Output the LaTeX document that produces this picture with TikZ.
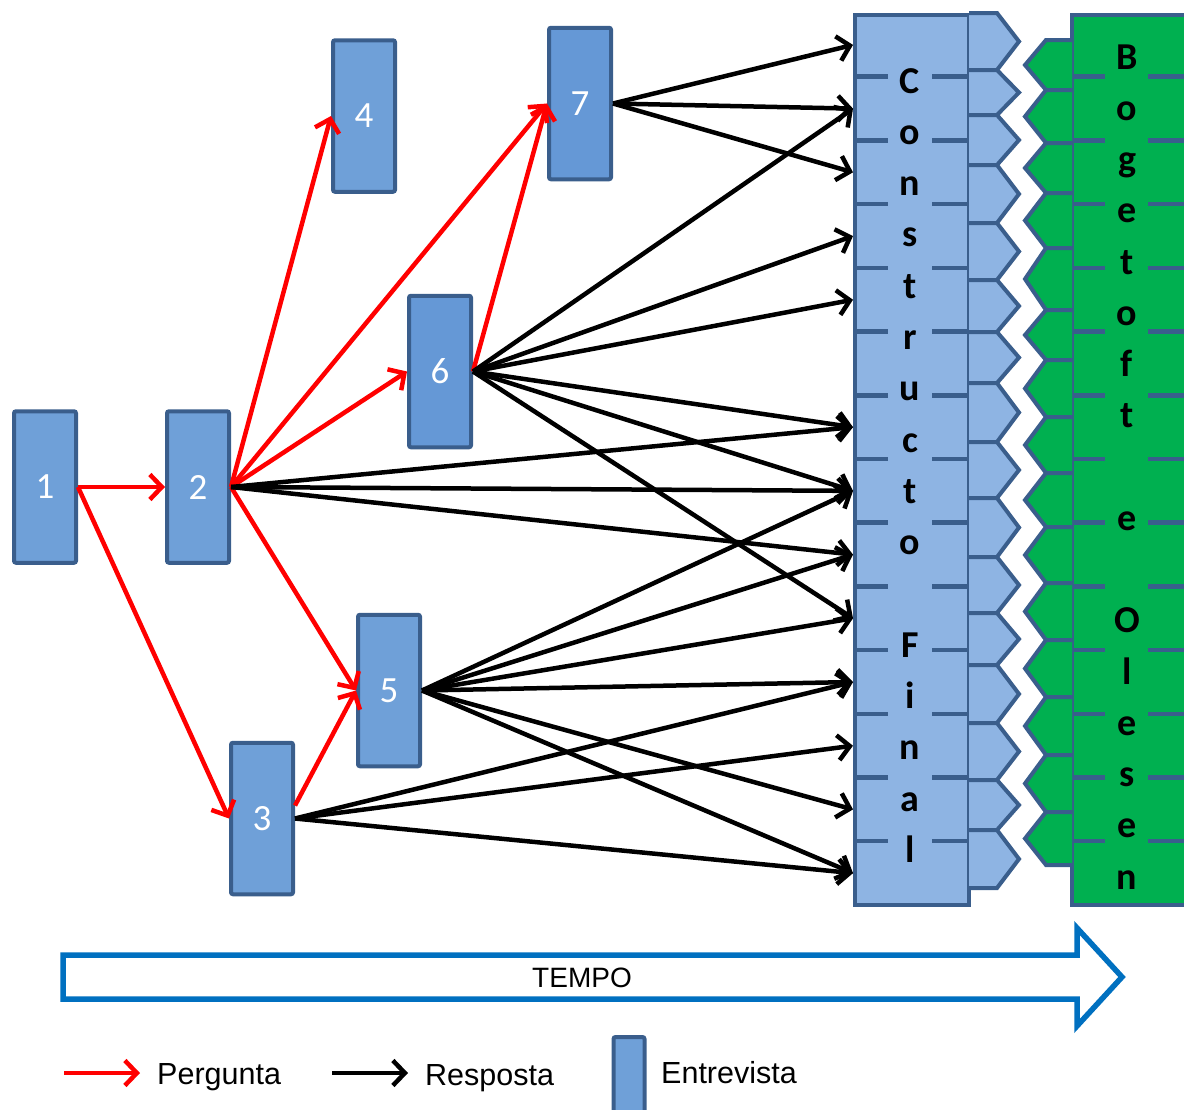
\documentclass[tikz,border=0pt]{standalone}
\usepackage{fontspec}
\setmainfont{Carlito}
\newfontfamily\arialfont{Liberation Sans}
\usetikzlibrary{arrows.meta,calc}

\definecolor{colbg}{RGB}{142,180,227}
\definecolor{edgeblue}{RGB}{58,94,140}
\definecolor{boxfill}{RGB}{111,160,216}
\definecolor{boxfillB}{RGB}{101,152,214}
\definecolor{grn}{RGB}{0,176,80}
\definecolor{tempoblue}{RGB}{0,112,192}

\tikzset{
  interview/.style={draw=edgeblue, line width=4pt, fill=boxfill, rounded corners=2pt,
    minimum width=62pt, minimum height=151.5pt, inner sep=0pt, text=white,
    font=\fontsize{37}{40}\selectfont},
  barb/.style={-{Straight Barb[length=12pt,width=25pt]}},
  ask/.style={barb, draw=red, line width=4.5pt},
  reply/.style={barb, draw=black, line width=4.5pt},
  rowline/.style={draw=edgeblue, line width=4.5pt},
  tabshape/.style={draw=edgeblue, line width=4pt, line join=miter},
  colletter/.style={anchor=base, inner sep=0pt, font=\bfseries\fontsize{38}{42}\selectfont},
  legendtext/.style={anchor=base west, inner sep=0pt, font=\arialfont\fontsize{30.5}{35}\selectfont}
}

\begin{document}
\begin{tikzpicture}[x=1pt,y=-1pt]
\useasboundingbox (0,0) rectangle (1184,1109);

% ---- final construct column ----
\draw[tabshape, fill=colbg] (855,15) rectangle (969,905);
\foreach \t/\b in {13/70,70/115,115/165,165/223,223/280,280/332,332/383,383/442,
                   442/498,498/557,557/613,613/665,665/723,723/780,780/830,830/888}{
  \draw[tabshape, fill=colbg] (969,\t) -- (997,\t) -- (1019,{(\t+\b)/2}) -- (997,\b) -- (969,\b);
}
\foreach \k in {1,...,13}{
  \draw[rowline] (855,{13+63.71*\k}) -- (888,{13+63.71*\k});
  \draw[rowline] (932,{13+63.71*\k}) -- (969,{13+63.71*\k});
}
\foreach \ch [count=\i from 0] in {C,o,n,s,t,r,u,c,t,o,{},F,i,n,a,l}{
  \node[colletter] (cf\i) at (910,{93+51.3*\i}) {\ch};
}

% ---- Bogetoft and Olesen column ----
\begin{scope}
\clip (0,0) rectangle (1184,1109);
\fill[grn] (1072,15) rectangle (1195,905);
\draw[tabshape] (1195,15) -- (1072,15) -- (1072,905) -- (1195,905);
\foreach \k in {1,...,13}{
  \draw[rowline] (1072,{13+63.71*\k}) -- (1105,{13+63.71*\k});
  \draw[rowline] (1148,{13+63.71*\k}) -- (1195,{13+63.71*\k});
}
\end{scope}
\foreach \t/\b in {40/90,90/143,143/193,193/248,248/310,310/360,360/417,417/473,
                   473/527,527/583,583/640,640/697,697/755,755/812,812/865}{
  \draw[tabshape, fill=grn] (1072,\t) -- (1046,\t) -- (1025,{(\t+\b)/2}) -- (1046,\b) -- (1072,\b);
}
\foreach \ch [count=\i from 0] in {B,o,g,e,t,o,f,t,{},e,{},O,l,e,s,e,n}{
  \node[colletter] (bo\i) at (1127,{69+51.25*\i}) {\ch};
}

% ---- arrival points on the construct column ----
\foreach \k in {0,...,13}{
  \coordinate (r\k) at (853,{44.9+63.71*\k});
}

% ---- interviews ----
\node[interview] (b1) at (45,487) {1};
\node[interview] (b2) at (198,487) {2};
\node[interview] (b3) at (262,818.5) {3};
\node[interview] (b4) at (364,116) {4};
\node[interview] (b5) at (389,690.5) {5};
\node[interview, fill=boxfillB] (b6) at (440,371.5) {6};
\node[interview, fill=boxfillB] (b7) at (580,103.5) {7};

% ---- questions ----
\draw[ask] (b1.east) -- (b2.west);
\draw[ask] (b1.east) -- (b3.west);
\draw[ask] (b2.east) -- (b4.west);
\draw[ask] (b2.east) -- (b7.west);
\draw[ask] (b2.east) -- (b6.west);
\draw[ask] (b2.east) -- (b5.west);
\draw[ask] (b6.east) -- (b7.west);
\draw[ask] ($(b3.east)+(0,-13)$) -- (b5.west);

% ---- answers ----
\foreach \k in {0,1,2}{ \draw[reply] (b7.east) -- (r\k); }
\foreach \k in {1,3,4,6,7,9}{ \draw[reply] (b6.east) -- (r\k); }
\foreach \k in {6,7,8}{ \draw[reply] (b2.east) -- (r\k); }
\foreach \k in {7,8,9,10,12,13}{ \draw[reply] (b5.east) -- (r\k); }
\foreach \k in {10,11,13}{ \draw[reply] (b3.east) -- (r\k); }

% ---- time arrow ----
\draw[tempoblue, line width=5.5pt, fill=white, line join=miter]
  (63,955) -- (1077,955) -- (1077,928) -- (1122,977) -- (1077,1026) -- (1077,999) -- (63,999) -- cycle;
\node[font=\arialfont\fontsize{28}{32}\selectfont, inner sep=0pt] (tempo) at (582,978) {TEMPO};

% ---- legend ----
\coordinate (qa) at (64,1073);
\coordinate (qb) at (140,1073);
\coordinate (ra) at (332,1073);
\coordinate (rb) at (408,1073);
\draw[ask] (qa) -- (qb);
\draw[reply] (ra) -- (rb);
\node[legendtext] (lq) at (157,1084) {Pergunta};
\node[legendtext] (lr) at (425,1085) {Resposta};
\begin{scope}
\clip (0,0) rectangle (1184,1109);
\node[interview, minimum width=31pt, minimum height=100pt] (lbox) at (629,1087) {};
\end{scope}
\node[legendtext] (le) at (661,1083) {Entrevista};
\end{tikzpicture}
\end{document}
